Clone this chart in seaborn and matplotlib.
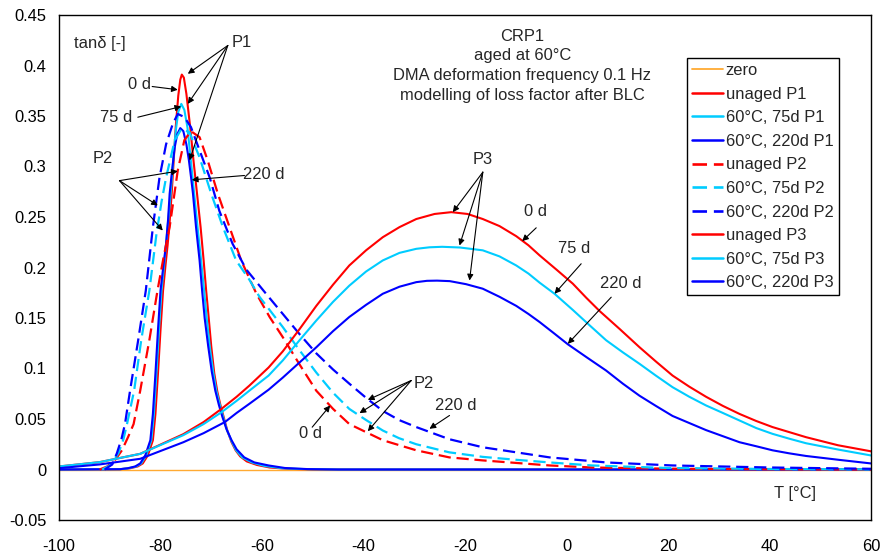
import matplotlib
matplotlib.use("Agg")
import matplotlib.pyplot as plt
import seaborn as sns
from matplotlib.ticker import FuncFormatter, MultipleLocator
from matplotlib.lines import Line2D

# ---------------- data ----------------
zero_T = [-100, 60]
zero_y = [0, 0]

p1_unaged_T = [-100, -88, -86, -84.5, -83.5, -82.5, -81.5, -81.0, -80.5, -80.0, -79.5, -79.0, -78.6, -78.2,
               -77.8, -77.4, -77.0, -76.5, -76.1, -75.8, -75.4, -74.9, -74.15, -73.5, -72.8, -72.1, -71.5,
               -71.0, -70.5, -70.0, -69.4, -68.8, -68.2, -67.5, -66.8, -66.0, -65.2, -64.3, -63.0, -61.0,
               -58.5, -55.0, -50.0, -45.0, 60]
p1_unaged_y = [0, 0.0003, 0.0012, 0.003, 0.006, 0.014, 0.029, 0.055, 0.095, 0.138, 0.177, 0.203, 0.222, 0.245,
               0.273, 0.306, 0.339, 0.370, 0.386, 0.391, 0.388, 0.372, 0.339, 0.306, 0.273, 0.240, 0.207,
               0.177, 0.150, 0.122, 0.095, 0.077, 0.064, 0.051, 0.038, 0.027, 0.019, 0.013, 0.008, 0.0045,
               0.002, 0.0007, 0.0001, 0, 0]

p1_75d_T = [-100, -88, -86.3, -84.8, -83.8, -82.8, -81.8, -81.3, -80.8, -80.3, -79.8, -79.2, -78.6, -78.0,
            -77.5, -77.0, -76.5, -75.9, -75.3, -74.7, -74.1, -73.4, -72.7, -72.0, -71.4, -70.9, -70.3,
            -69.6, -69.0, -68.3, -67.6, -66.9, -66.0, -65.1, -63.9, -62.0, -59.5, -56.0, -51.0, -45.0, 60]
p1_75d_y = [0, 0.0003, 0.0012, 0.003, 0.006, 0.014, 0.029, 0.055, 0.095, 0.138, 0.177, 0.207, 0.240, 0.273,
            0.306, 0.335, 0.354, 0.362, 0.356, 0.339, 0.310, 0.275, 0.240, 0.207, 0.177, 0.150, 0.122,
            0.096, 0.078, 0.064, 0.051, 0.039, 0.028, 0.019, 0.012, 0.007, 0.0035, 0.0012, 0.0003, 0, 0]

p1_220d_T = [-100, -88, -86.5, -85, -84, -83, -82, -81.5, -81.0, -80.5, -80.0, -79.4, -78.9, -78.5, -78.2,
             -77.7, -77.2, -76.7, -76.1, -75.5, -74.9, -74.4, -73.95, -73.6, -73.0, -72.3, -71.8, -71.3,
             -70.6, -69.9, -69.2, -68.5, -67.8, -67.0, -66.0, -65.0, -63.5, -61.5, -58.7, -55.5, -51.0,
             -45.0, 60]
p1_220d_y = [0, 0.0003, 0.0012, 0.003, 0.006, 0.014, 0.029, 0.055, 0.095, 0.138, 0.177, 0.203, 0.2235,
             0.248, 0.273, 0.297, 0.319, 0.332, 0.338, 0.335, 0.322, 0.306, 0.288, 0.273, 0.240, 0.207,
             0.177, 0.150, 0.122, 0.097, 0.078, 0.064, 0.052, 0.040, 0.029, 0.020, 0.012, 0.007, 0.004,
             0.0015, 0.0004, 0, 0]

p2_unaged_T = [-92, -90.5, -89, -87.6, -86.4, -85.3, -84.0, -82.2, -80.6, -79.4, -78.2, -77.4, -76.6, -75.3,
               -74.0, -72.3, -70.7, -68.7, -66.4, -64.1, -61.1, -58.5, -55.9, -52.6, -49.3, -46.0, -42.8,
               -39.5, -36.2, -29.6, -23.1, -16.5, -9.9, -3.35, 5, 20, 40, 60]
p2_unaged_y = [0, 0.003, 0.009, 0.019, 0.032, 0.045, 0.078, 0.128, 0.177, 0.210, 0.240, 0.268, 0.296, 0.326,
               0.335, 0.329, 0.306, 0.273, 0.240, 0.207, 0.174, 0.151, 0.131, 0.104, 0.078, 0.060, 0.045,
               0.037, 0.029, 0.019, 0.012, 0.009, 0.0065, 0.004, 0.002, 0.0008, 0.0002, 0]

p2_75d_T = [-91.5, -90, -88.3, -87.3, -86.6, -85.2, -83.8, -82.2, -80.8, -79.8, -78.9, -77.2, -75.9, -74.3,
            -72.3, -70.0, -67.7, -65.1, -62.5, -60.5, -58.2, -55.9, -52.6, -49.3, -46.0, -42.8, -39.5,
            -36.2, -33.0, -29.6, -23.1, -16.5, -9.9, -3.35, 5, 20, 40, 60]
p2_75d_y = [0, 0.004, 0.016, 0.030, 0.045, 0.078, 0.128, 0.177, 0.233, 0.265, 0.289, 0.326, 0.337, 0.334,
            0.309, 0.273, 0.240, 0.207, 0.188, 0.171, 0.156, 0.141, 0.118, 0.096, 0.076, 0.060, 0.049,
            0.0386, 0.031, 0.025, 0.017, 0.0125, 0.0096, 0.007, 0.004, 0.0015, 0.0005, 0.0002]

p2_220d_T = [-91, -89.5, -88.6, -87.7, -87.0, -86.0, -84.4, -82.9, -81.5, -80.2, -78.9, -77.6, -76.6, -75.3,
             -74.0, -72.3, -70.3, -68.4, -65.8, -63.1, -59.2, -55.9, -52.6, -49.3, -46.0, -42.8, -39.5,
             -36.2, -33.0, -29.6, -23.1, -16.5, -9.9, -3.35, 7.8, 20.9, 40, 60]
p2_220d_y = [0, 0.005, 0.016, 0.030, 0.045, 0.078, 0.128, 0.177, 0.240, 0.289, 0.322, 0.342, 0.352, 0.349,
             0.339, 0.316, 0.289, 0.256, 0.2235, 0.198, 0.174, 0.154, 0.134, 0.115, 0.099, 0.085, 0.071,
             0.058, 0.049, 0.042, 0.030, 0.022, 0.017, 0.012, 0.007, 0.004, 0.002, 0.0007]

p3_unaged_T = [-100, -92, -84, -75.5, -71.5, -68, -65, -62.5, -58.7, -55.9, -52.6, -49.3, -46, -42.8, -39.5,
               -36.2, -32.9, -29.6, -26, -22.7, -19.5, -16.5, -13.2, -9.9, -7.5, -5.3, -2, 1.24, 3.9, 6.5,
               10.5, 14.4, 17.6, 20.9, 24.2, 27.5, 30.8, 34.1, 37.4, 40.6, 43.9, 47.2, 53.5, 60]
p3_unaged_y = [0.003, 0.0073, 0.0155, 0.035, 0.047, 0.060, 0.072, 0.083, 0.101, 0.117, 0.139, 0.162, 0.183,
               0.202, 0.217, 0.230, 0.240, 0.248, 0.253, 0.2548, 0.253, 0.248, 0.241, 0.231, 0.222, 0.212,
               0.198, 0.184, 0.170, 0.157, 0.139, 0.121, 0.107, 0.093, 0.082, 0.072, 0.063, 0.055, 0.048,
               0.042, 0.037, 0.032, 0.024, 0.018]

p3_75d_T = [-100, -92, -84, -75.5, -71.5, -67.9, -65, -62.5, -58.7, -55.9, -52.6, -49.3, -46, -42.8, -39.5,
            -36.2, -32.9, -29.6, -27, -24.5, -21, -16.5, -13.2, -9.9, -7.5, -5.3, -2.36, 1.24, 4.5, 7.8, 11.1,
            14.4, 17.6, 20.9, 24.2, 27.5, 30.8, 34.1, 37.4, 40.6, 43.9, 47.2, 53.8, 60]
p3_75d_y = [0.003, 0.0073, 0.0155, 0.034, 0.045, 0.057, 0.068, 0.078, 0.093, 0.108, 0.128, 0.1475, 0.166,
            0.182, 0.196, 0.207, 0.2145, 0.2185, 0.2200, 0.2205, 0.2198, 0.217, 0.211, 0.202, 0.194, 0.185,
            0.174, 0.158, 0.143, 0.128, 0.116, 0.1046, 0.093, 0.0815, 0.072, 0.0634, 0.056, 0.0485, 0.041,
            0.0353, 0.0305, 0.026, 0.0195, 0.0139]

p3_220d_T = [-100, -92, -84, -75.5, -71.5, -67.3, -65, -62.5, -58.7, -55.9, -52.6, -49.3, -46, -42.8, -39.5,
             -36.2, -32.9, -29.6, -27.5, -25.5, -23, -19.8, -16.5, -13.2, -9.9, -7.5, -5.3, -2.5, 0.26, 4,
             7.8, 11.1, 14.4, 17.6, 20.9, 24.2, 27.5, 30.8, 34.1, 37.4, 40.6, 43.9, 47.2, 53.8, 60]
p3_220d_y = [0.0013, 0.005, 0.0106, 0.027, 0.036, 0.047, 0.056, 0.065, 0.079, 0.091, 0.106, 0.121, 0.137,
             0.151, 0.163, 0.174, 0.181, 0.1855, 0.1868, 0.187, 0.1865, 0.1835, 0.179, 0.171, 0.162, 0.154,
             0.146, 0.135, 0.124, 0.111, 0.098, 0.085, 0.073, 0.063, 0.053, 0.046, 0.039, 0.033, 0.027,
             0.023, 0.019, 0.016, 0.0134, 0.0095, 0.006]

series_labels = ["zero", "unaged P1", "60°C, 75d P1", "60°C, 220d P1",
                 "unaged P2", "60°C, 75d P2", "60°C, 220d P2",
                 "unaged P3", "60°C, 75d P3", "60°C, 220d P3"]

# ---------------- styling ----------------
sns.set_theme(style="white")
plt.rcParams['font.family'] = ['Liberation Sans', 'DejaVu Sans']
FS = 11.9

RED, CYAN, BLUE, ORANGE = "#FF0000", "#00CCFF", "#0000FF", "#FFAA33"
DASH = (0, (5.5, 2.6))

series = [
    (zero_T, zero_y, ORANGE, "-", 1.0),
    (p1_unaged_T, p1_unaged_y, RED, "-", 1.5),
    (p1_75d_T, p1_75d_y, CYAN, "-", 1.5),
    (p1_220d_T, p1_220d_y, BLUE, "-", 1.5),
    (p2_unaged_T, p2_unaged_y, RED, DASH, 1.6),
    (p2_75d_T, p2_75d_y, CYAN, DASH, 1.6),
    (p2_220d_T, p2_220d_y, BLUE, DASH, 1.6),
    (p3_unaged_T, p3_unaged_y, RED, "-", 1.5),
    (p3_75d_T, p3_75d_y, CYAN, "-", 1.5),
    (p3_220d_T, p3_220d_y, BLUE, "-", 1.5),
]

fig = plt.figure(figsize=(8.82, 5.6), dpi=100)
ax = fig.add_axes([59 / 882, 40 / 560, (871 - 59) / 882, (520 - 15) / 560])

handles = []
for (T, y, c, ls, lw), lab in zip(series, series_labels):
    sns.lineplot(x=T, y=y, ax=ax, color=c, linestyle=ls, linewidth=lw, sort=False,
                 estimator=None, legend=False)
    handles.append(Line2D([], [], color=c, linestyle=ls, linewidth=lw + 0.3, label=lab))

ax.set_xlim(-100, 60)
ax.set_ylim(-0.05, 0.45)
ax.xaxis.set_major_locator(MultipleLocator(20))
ax.yaxis.set_major_locator(MultipleLocator(0.05))
ax.yaxis.set_major_formatter(FuncFormatter(lambda v, p: "%g" % round(v, 3)))
ax.xaxis.set_major_formatter(FuncFormatter(lambda v, p: "%g" % round(v, 3)))
ax.tick_params(axis="both", direction="in", length=4, width=0.8, colors="black", labelsize=FS)
ax.tick_params(axis="x", pad=14)
ax.tick_params(axis="y", pad=9)
ax.set_xlabel("")
ax.set_ylabel("")
for s in ax.spines.values():
    s.set_color("black")
    s.set_linewidth(1.0)

leg = ax.legend(handles=handles, loc="upper left", bbox_to_anchor=(0.7734, 0.9149), fontsize=FS,
                frameon=True, fancybox=False, framealpha=1, edgecolor="black", handlelength=1.85,
                handletextpad=0.2, labelspacing=0.52, borderpad=0.3, borderaxespad=0)
leg.get_frame().set_linewidth(1.0)

# ---------------- texts and arrows ----------------
ax.text(-97.0, 0.4218, "tanδ [-]", fontsize=FS, ha="left", va="center")
ax.text(-8.67, 0.4366, "CRP1\naged at 60°C\nDMA deformation frequency 0.1 Hz\nmodelling of loss factor after BLC",
        fontsize=FS, ha="center", va="top", linespacing=1.4)
ax.text(45.1, -0.0238, "T [°C]", fontsize=FS, ha="center", va="center")

labels = [
    ("P1", -64.0, 0.4228), ("0 d", -84.1, 0.381), ("75 d", -88.7, 0.3485), ("P2", -91.4, 0.308),
    ("220 d", -59.7, 0.292), ("P3", -16.6, 0.307), ("0 d", -6.1, 0.2554), ("75 d", 1.6, 0.2188),
    ("220 d", 10.6, 0.184), ("P2", -28.2, 0.0851), ("0 d", -50.4, 0.0356), ("220 d", -21.9, 0.063),
]
for t, x, y in labels:
    ax.text(x, y, t, fontsize=FS, ha="center", va="center")

arrows = [
    ((-66.74, 0.4198), (-74.62, 0.3918)),
    ((-66.74, 0.4198), (-74.62, 0.362)),
    ((-66.74, 0.4198), (-74.29, 0.306)),
    ((-81.64, 0.3792), (-76.59, 0.376)),
    ((-84.47, 0.3488), (-75.92, 0.3594)),
    ((-88.08, 0.286), (-76.59, 0.2954)),
    ((-88.08, 0.286), (-80.53, 0.2614)),
    ((-88.08, 0.286), (-79.55, 0.2366)),
    ((-63.45, 0.2911), (-73.83, 0.2868)),
    ((-16.49, 0.2944), (-22.4, 0.2548)),
    ((-16.49, 0.2944), (-21.08, 0.2218)),
    ((-16.49, 0.2944), (-19.11, 0.1871)),
    ((-5.97, 0.2393), (-8.73, 0.2261)),
    ((2.89, 0.2037), (-2.36, 0.174)),
    ((8.81, 0.1706), (0.26, 0.1244)),
    ((-30.6, 0.0881), (-39.15, 0.069)),
    ((-30.6, 0.0881), (-40.79, 0.0558)),
    ((-30.6, 0.0881), (-39.15, 0.0379)),
    ((-50.11, 0.0419), (-46.56, 0.0634)),
    ((-23.05, 0.0535), (-27.0, 0.0403)),
]
for (x0, y0), (x1, y1) in arrows:
    ax.annotate("", xy=(x1, y1), xytext=(x0, y0),
                arrowprops=dict(arrowstyle="-|>", color="black", lw=0.8, mutation_scale=9,
                                shrinkA=0, shrinkB=0))

fig.savefig("out.png", dpi=100, facecolor="white")
